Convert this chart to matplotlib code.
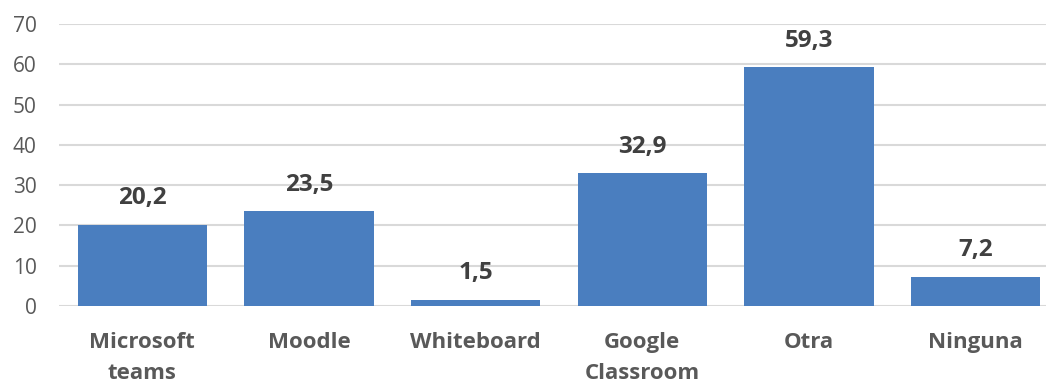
import matplotlib
matplotlib.use("Agg")
import matplotlib.pyplot as plt

categories = ["Microsoft\nteams", "Moodle", "Whiteboard", "Google\nClassroom", "Otra", "Ninguna"]
values = [20.2, 23.5, 1.5, 32.9, 59.3, 7.2]
yticks = [0, 10, 20, 30, 40, 50, 60, 70]

plt.rcParams["font.family"] = ["Open Sans", "DejaVu Sans"]

fig = plt.figure(figsize=(10.46, 3.85), dpi=100)
# plot area runs slightly past the right edge, as in the cropped original
ax = fig.add_axes([59 / 1046, 79 / 385, 1000 / 1046, 282 / 385])

x = range(len(categories))
ax.bar(x, values, width=0.775, color="#4A7EBF", zorder=3)
for xi, v in zip(x, values):
    ax.annotate(f"{v:.1f}".replace(".", ","), (xi, v), xytext=(0, 10.5),
                textcoords="offset points", ha="center", va="bottom",
                fontsize=17.5, fontweight="bold", color="#404040")

ax.set_xlim(-0.5, len(categories) - 0.5)
ax.set_ylim(0, 70)
ax.set_yticks(yticks)
ax.set_xticks(list(x))
ax.set_xticklabels(categories, fontsize=16, fontweight="bold", color="#595959",
                   linespacing=1.6)
ax.tick_params(axis="y", labelsize=15, labelcolor="#595959", length=0, pad=16)
ax.tick_params(axis="x", length=0, pad=19)
ax.grid(axis="y", color="#D9D9D9", linewidth=1.5, zorder=0)
for s in ax.spines.values():
    s.set_visible(False)

fig.savefig("out.png", dpi=100)
